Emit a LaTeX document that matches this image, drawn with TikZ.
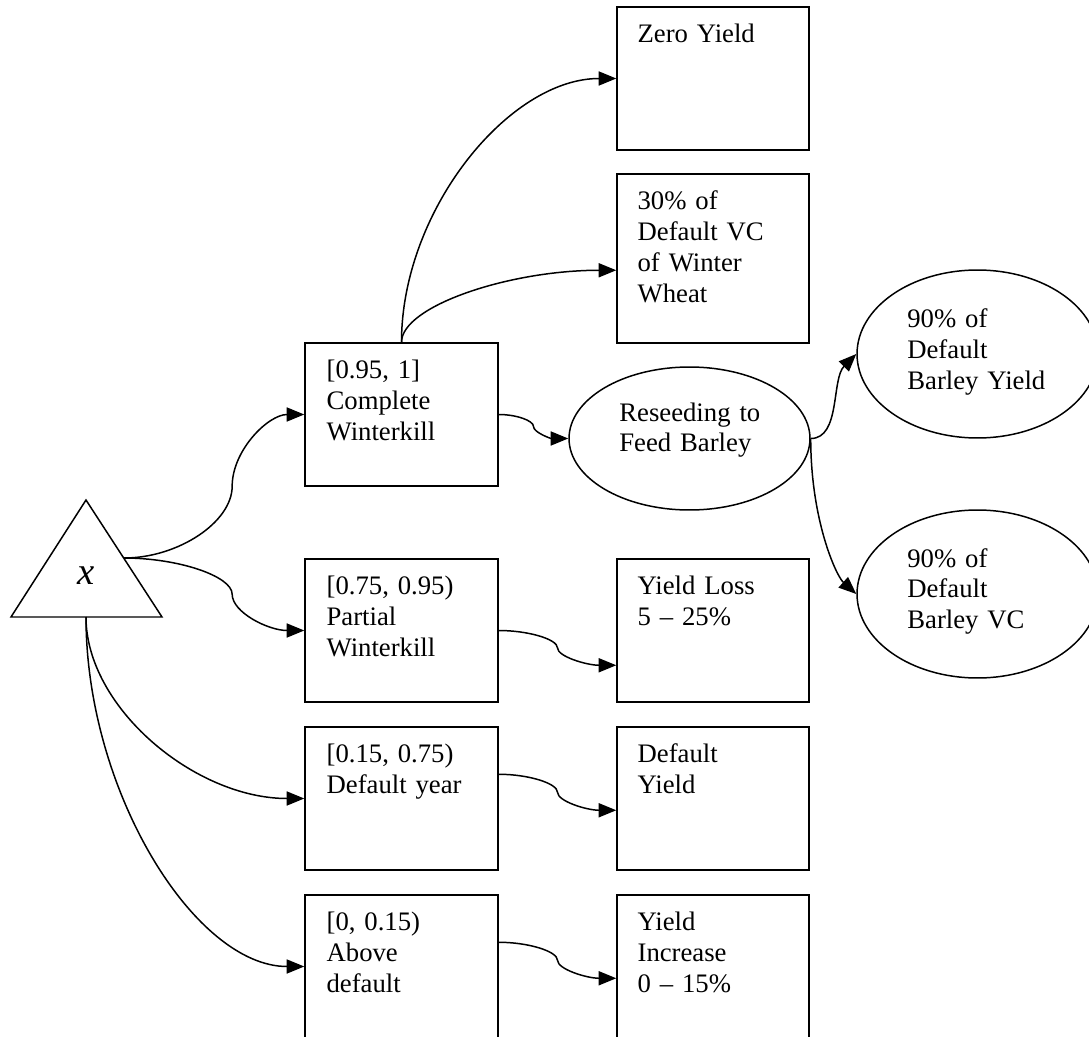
\documentclass[tikz,border=0pt]{standalone}
\usepackage{fontspec}
\setmainfont{Liberation Serif}
\usetikzlibrary{arrows.meta,calc,shapes.geometric}
\begin{document}
\begin{tikzpicture}[x=0.02cm,y=-0.02cm,
  every node/.style={font=\fontsize{15.2}{17.6}\selectfont},
  box/.style={draw, line width=0.85pt, inner sep=0pt, minimum width=3.86cm, minimum height=2.86cm},
  oval/.style={draw, ellipse, line width=0.85pt, inner sep=0pt, minimum width=4.82cm, minimum height=2.86cm},
  txt/.style={anchor=base west, inner sep=0pt, text width=4cm, align=left},
  conn/.style={line width=0.85pt, -{Triangle[length=10pt,width=8pt]}},
  sconn/.style={to path={let \p1=(\tikztostart), \p2=(\tikztotarget), \n1={\x1+#1*(\x2-\x1)} in
     .. controls ({0.5*(\x1+\n1*1pt)},\y1) and ({\n1*1pt},{\y1+0.25*(\y2-\y1)}) .. ({\n1*1pt},{0.5*(\y1+\y2)})
     .. controls ({\n1*1pt},{\y1+0.75*(\y2-\y1)}) and ({0.5*(\n1*1pt+\x2)},\y2) .. (\tikztotarget)}},
  sconn/.default=0.5,
  qconn/.style={to path={let \p1=(\tikztostart), \p2=(\tikztotarget) in
     .. controls (\x1,{0.5*(\y1+\y2)}) and ({0.5*(\x1+\x2)},\y2) .. (\tikztotarget)}}
]
\useasboundingbox (0,0) rectangle (1089,1037);
\fill[white] (0,0) rectangle (1089,1037);

% triangle
\draw[line width=0.85pt, line join=miter] (86,500) -- (162,617) -- (11,617) -- cycle;
\coordinate (triR) at (124,558);
\coordinate (triB) at (86,617);
\node[anchor=base, inner sep=0pt, font=\fontsize{22}{24}\selectfont\itshape] (xv) at (86,584) {x};

% left column boxes
\node[box] (b1) at (401.5,414.5) {};
\node[box] (b2) at (401.5,630.5) {};
\node[box] (b3) at (401.5,798.5) {};
\node[box] (b4) at (401.5,966.5) {};
\node[txt] (t1) at ($(b1.north west)+(22,36)$) {[0.95, 1]\\Complete\\Winterkill};
\node[txt] (t2) at ($(b2.north west)+(22,36)$) {[0.75, 0.95)\\Partial\\Winterkill};
\node[txt] (t3) at ($(b3.north west)+(22,36)$) {[0.15, 0.75)\\Default year};
\node[txt] (t4) at ($(b4.north west)+(22,36)$) {[0, 0.15)\\Above\\default};

% right column boxes
\node[box, minimum width=3.84cm] (r0) at (713,78.5) {};
\node[box, minimum width=3.84cm, minimum height=3.38cm] (r30) at (713,258.5) {};
\node[box, minimum width=3.84cm] (rLoss) at (713,630.5) {};
\node[box, minimum width=3.84cm] (rDef) at (713,798.5) {};
\node[box, minimum width=3.84cm] (rInc) at (713,966.5) {};
\node[txt] (tr0) at ($(r0.north west)+(21,36)$) {Zero Yield};
\node[txt] (tr30) at ($(r30.north west)+(21,36)$) {30\% of\\Default VC\\of Winter\\Wheat};
\node[txt] (trL) at ($(rLoss.north west)+(21,36)$) {Yield Loss\\5 -- 25\%};
\node[txt] (trD) at ($(rDef.north west)+(21,36)$) {Default\\Yield};
\node[txt] (trI) at ($(rInc.north west)+(21,36)$) {Yield\\Increase\\0 -- 15\%};

% ellipses
\node[oval] (rs) at (689.5,438.5) {};
\node[oval, minimum height=3.36cm] (e1) at (977.5,354) {};
\node[oval, minimum height=3.36cm] (e2) at (977.5,594) {};
\node[txt] (trs) at (619,421) {Reseeding to\\Feed Barley};
\node[txt] (te1) at (907,328) {90\% of\\Default\\Barley Yield};
\node[txt] (te2) at (907,567) {90\% of\\Default\\Barley VC};

% connectors
\draw[conn] (triR) to[sconn=0.6] (b1.west);
\draw[conn] (triR) to[sconn=0.6] (b2.west);
\draw[conn] (triB) to[qconn] (b3.west);
\draw[conn] (triB) to[qconn] (b4.west);
\draw[conn] (b1.north) to[qconn] (r0.west);
\draw[conn] (b1.north) to[qconn] ($(r30.north west)+(0,97)$);
\draw[conn] (b1.east) to[sconn] (rs.west);
\draw[conn] (rs.east) .. controls +(30,0) and +(-25,25) .. (e1.west);
\draw[conn] (rs.east) .. controls +(0,82) and +(-20,-18) .. (e2.west);
\draw[conn] (b2.east) to[sconn] ($(rLoss.north west)+(0,107)$);
\draw[conn] ($(b3.north east)+(0,48)$) to[sconn] ($(rDef.north west)+(0,84)$);
\draw[conn] ($(b4.north east)+(0,48)$) to[sconn] ($(rInc.north west)+(0,84)$);
\end{tikzpicture}
\end{document}
